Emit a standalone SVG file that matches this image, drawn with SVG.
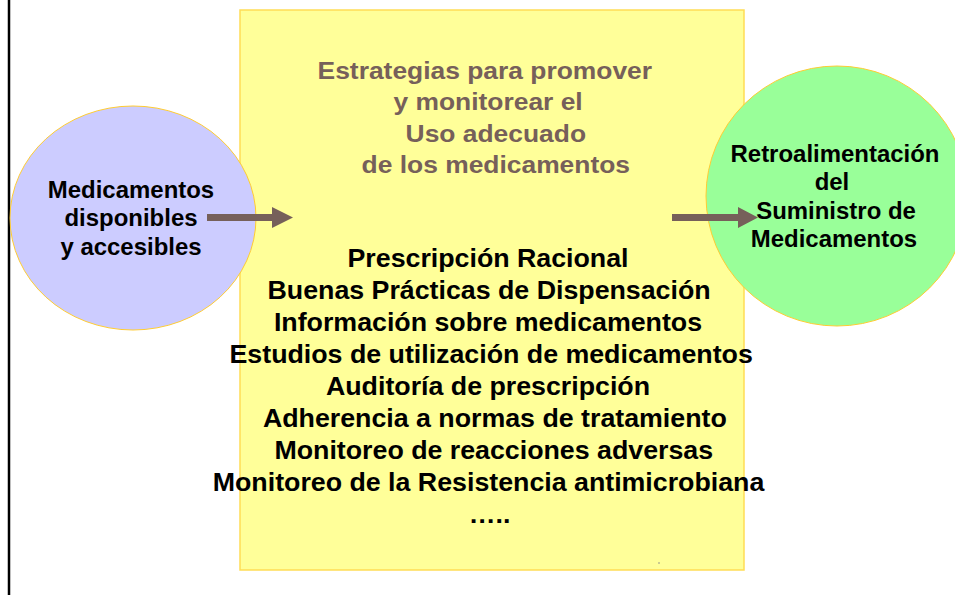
<svg xmlns="http://www.w3.org/2000/svg" width="955" height="595" viewBox="0 0 955 595">
<defs>
<style>
.t{font-family:"Liberation Sans",Arial,sans-serif;font-weight:bold;text-anchor:middle}
.title{fill:#76605A;font-size:24px}
.list{fill:#000;font-size:25.5px}
.circ{fill:#000;font-size:23.5px}
.arrow{fill:#76605A}
</style>
</defs>
<rect width="955" height="595" fill="#fff"/>
<line x1="9" y1="0" x2="9" y2="595" stroke="#000" stroke-width="2.5"/>
<g id="strategies">
<rect x="240" y="10" width="504" height="560" fill="#FFFF99" stroke="#FFDD55" stroke-width="1.5"/>
<circle cx="659" cy="563" r="0.8" fill="#888"/>
</g>
<g id="available">
<ellipse cx="133" cy="218" rx="123" ry="112" fill="#CCCCFF" stroke="#FFCC33" stroke-width="1"/>
<g transform="translate(131 0) scale(1.02 1)">
<text class="t circ" x="0" y="198">Medicamentos</text>
<text class="t circ" x="0" y="226.5">disponibles</text>
<text class="t circ" x="0" y="255">y accesibles</text>
</g>
</g>
<g id="feedback">
<ellipse cx="837" cy="196" rx="131" ry="130" fill="#99FF99" stroke="#FFCC33" stroke-width="1"/>
<g transform="translate(835 0) scale(1.02 1)">
<text class="t circ" x="0" y="162">Retroalimentación</text>
<text class="t circ" x="-3" y="190.5">del</text>
<text class="t circ" x="1" y="219">Suministro de</text>
<text class="t circ" x="-1" y="247.5">Medicamentos</text>
</g>
</g>
<g id="strategies-text">
<g transform="translate(487 0) scale(1.1 1)">
<text class="t title" x="-2" y="79">Estrategias para promover</text>
<text class="t title" x="1" y="110.5">y monitorear el</text>
<text class="t title" x="8" y="142">Uso adecuado</text>
<text class="t title" x="8" y="173.5">de los medicamentos</text>
</g>
<g transform="translate(488 0) scale(1.05 1)">
<text class="t list" x="0" y="267">Prescripción Racional</text>
<text class="t list" x="1" y="299">Buenas Prácticas de Dispensación</text>
<text class="t list" x="0" y="331">Información sobre medicamentos</text>
<text class="t list" x="3" y="363">Estudios de utilización de medicamentos</text>
<text class="t list" x="0" y="395">Auditoría de prescripción</text>
<text class="t list" x="6.5" y="427">Adherencia a normas de tratamiento</text>
<text class="t list" x="5.5" y="459">Monitoreo de reacciones adversas</text>
<text class="t list" x="0.5" y="491">Monitoreo de la Resistencia antimicrobiana</text>
<text class="t list" x="1.5" y="523">…..</text>
</g>
</g>
<g id="connectors">
<polygon class="arrow" points="207,214 272,214 272,207 293,217.5 272,228 272,221 207,221"/>
<polygon class="arrow" points="672,214 738,214 738,207 758,217.5 738,228 738,221 672,221"/>
</g>
</svg>
